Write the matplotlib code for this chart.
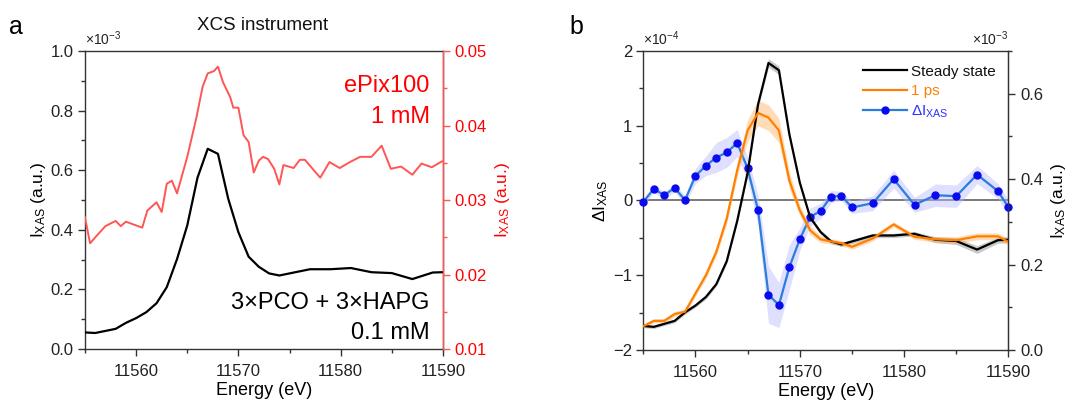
import matplotlib
matplotlib.use("Agg")
import matplotlib.pyplot as plt
from matplotlib.ticker import MultipleLocator, FixedLocator
from matplotlib.lines import Line2D
import numpy as np

plt.rcParams['font.family'] = ['Liberation Sans', 'DejaVu Sans']
plt.rcParams['mathtext.fontset'] = 'custom'
plt.rcParams['mathtext.rm'] = 'Liberation Sans'
plt.rcParams['mathtext.it'] = 'Liberation Sans'
plt.rcParams['axes.unicode_minus'] = True

# ---------------- data ----------------
# Steady-state XAS (3xPCO + 3xHAPG, 0.1 mM), units 1e-3
ss_energy = [11555, 11556, 11557, 11558, 11559, 11560, 11561, 11562, 11563, 11564,
             11565, 11566, 11567, 11568, 11569, 11570, 11571, 11572, 11573, 11574,
             11575, 11577, 11579, 11581, 11583, 11585, 11587, 11589, 11590]
ss_intensity = [0.056, 0.054, 0.061, 0.068, 0.088, 0.104, 0.124, 0.154, 0.208, 0.302,
                0.415, 0.575, 0.672, 0.655, 0.505, 0.392, 0.310, 0.276, 0.254, 0.247,
                0.254, 0.268, 0.268, 0.272, 0.258, 0.255, 0.235, 0.257, 0.258]
ss_err = [0.004, 0.004, 0.004, 0.004, 0.004, 0.004, 0.005, 0.005, 0.005, 0.006,
          0.007, 0.008, 0.010, 0.010, 0.008, 0.006, 0.005, 0.005, 0.005, 0.005,
          0.005, 0.005, 0.005, 0.005, 0.007, 0.008, 0.009, 0.007, 0.007]

# ePix100 XAS (1 mM), absolute a.u.
epix_energy = [11555.0, 11555.5, 11556.2, 11557.0, 11558.0, 11558.5, 11559.0, 11559.8,
               11560.6, 11561.1, 11562.0, 11562.5, 11563.0, 11563.5, 11564.0, 11565.0,
               11565.9, 11566.5, 11567.0, 11567.6, 11568.0, 11568.5, 11569.2, 11569.5,
               11570.0, 11570.5, 11571.0, 11571.5, 11572.0, 11572.4, 11572.9, 11573.5,
               11574.0, 11574.4, 11575.4, 11576.0, 11576.5, 11578.0, 11578.9, 11579.9,
               11580.9, 11581.9, 11583.0, 11584.0, 11584.9, 11585.9, 11587.0, 11587.9,
               11588.9, 11589.9]
epix_intensity = [0.0277, 0.0242, 0.0253, 0.0265, 0.0272, 0.0265, 0.0271, 0.0267,
                  0.0263, 0.0286, 0.0297, 0.0284, 0.0322, 0.0326, 0.0309, 0.0358,
                  0.0411, 0.0452, 0.0470, 0.0473, 0.0479, 0.0458, 0.0438, 0.0424,
                  0.0424, 0.0387, 0.0378, 0.0337, 0.0353, 0.0358, 0.0355, 0.0342,
                  0.0321, 0.0347, 0.0343, 0.0354, 0.0354, 0.0330, 0.0351, 0.0343,
                  0.0351, 0.0358, 0.0358, 0.0373, 0.0342, 0.0345, 0.0334, 0.0349,
                  0.0344, 0.0352]

# 1 ps XAS, units 1e-3
ps_intensity = [0.0555, 0.068, 0.068, 0.084, 0.0895, 0.1325, 0.175, 0.230, 0.308, 0.421,
                0.514, 0.555, 0.544, 0.514, 0.397, 0.327, 0.280, 0.259, 0.254, 0.250,
                0.2415, 0.261, 0.294, 0.265, 0.259, 0.257, 0.266, 0.266, 0.253]
ps_err = [0.005, 0.005, 0.005, 0.006, 0.006, 0.007, 0.008, 0.010, 0.012, 0.015,
          0.025, 0.030, 0.030, 0.028, 0.020, 0.012, 0.010, 0.008, 0.006, 0.006,
          0.006, 0.006, 0.006, 0.006, 0.007, 0.008, 0.008, 0.008, 0.008]

# Difference signal, units 1e-4
diff_intensity = [-0.02, 0.156, 0.07, 0.168, 0.005, 0.33, 0.465, 0.575, 0.643, 0.770,
                  0.428, -0.128, -1.262, -1.40, -0.893, -0.52, -0.22, -0.14, 0.053, 0.062,
                  -0.094, -0.036, 0.285, -0.058, 0.07, 0.058, 0.347, 0.125, -0.09]
diff_err = [0.05, 0.05, 0.05, 0.05, 0.06, 0.10, 0.13, 0.20, 0.20, 0.18,
            0.15, 0.20, 0.38, 0.30, 0.30, 0.15, 0.12, 0.10, 0.08, 0.06,
            0.08, 0.10, 0.12, 0.10, 0.15, 0.15, 0.12, 0.10, 0.10]

E = np.array(ss_energy, float)
ss = np.array(ss_intensity)
sse = np.array(ss_err)
ps = np.array(ps_intensity)
pse = np.array(ps_err)
dd = np.array(diff_intensity)
dde = np.array(diff_err)

RED = '#ff0000'
RED_LINE = '#ff5555'
ORANGE = '#ff8000'
BLUE_LINE = '#2a7ddc'
BLUE_MK = '#0a0af0'
SPINE = '#333333'
TICKLAB = 12

fig = plt.figure(figsize=(10.74, 4.05), dpi=100)

def style_axis(ax):
    for s in ax.spines.values():
        s.set_color(SPINE)
        s.set_linewidth(1.0)
    ax.tick_params(axis='both', which='major', direction='out', length=5, width=1.0,
                   labelsize=TICKLAB, color=SPINE, labelcolor='#222222', pad=3)
    ax.tick_params(axis='x', which='major', pad=6)
    ax.tick_params(axis='both', which='minor', direction='out', length=3, width=1.0,
                   color=SPINE)
    ax.tick_params(axis='x', top=False, which='both')

# ---------------- panel a ----------------
axa = fig.add_axes([0.0791, 0.138, 0.3334, 0.736])
axa.plot(E, ss, color='black', lw=1.6, zorder=3)
axa.set_xlim(11555, 11590)
axa.set_ylim(0, 1.0)
style_axis(axa)
axa.xaxis.set_major_locator(FixedLocator([11560, 11570, 11580, 11590]))
axa.xaxis.set_minor_locator(MultipleLocator(5))
axa.yaxis.set_major_locator(MultipleLocator(0.2))
axa.yaxis.set_minor_locator(MultipleLocator(0.1))
axa.yaxis.set_major_formatter(plt.FuncFormatter(lambda v, p: f"{v:.1f}"))
axa.set_xlabel('Energy (eV)', fontsize=13, labelpad=2)
axa.set_ylabel(r'I$_{\mathrm{XAS}}$ (a.u.)', fontsize=12.5, labelpad=2)
axa.text(0.0, 1.01, r'$\times10^{-3}$', transform=axa.transAxes, fontsize=10,
         ha='left', va='bottom', color='#222222')

axa2 = axa.twinx()
axa2.plot(epix_energy, epix_intensity, color=RED_LINE, lw=1.4, zorder=3)
axa2.set_ylim(0.01, 0.05)
axa2.set_xlim(11555, 11590)
for s in axa2.spines.values():
    s.set_visible(False)
axa2.spines['right'].set_visible(True)
axa2.spines['right'].set_color(RED_LINE)
axa2.spines['right'].set_linewidth(1.0)
axa2.yaxis.set_major_locator(MultipleLocator(0.01))
axa2.yaxis.set_minor_locator(MultipleLocator(0.005))
axa2.yaxis.set_major_formatter(plt.FuncFormatter(lambda v, p: f"{v:.2f}"))
axa2.tick_params(axis='y', which='major', direction='out', length=5, width=1.0,
                 color=RED_LINE, labelcolor=RED, labelsize=TICKLAB)
axa2.tick_params(axis='y', which='minor', direction='out', length=3, width=1.0,
                 color=RED_LINE)
axa2.set_ylabel(r'I$_{\mathrm{XAS}}$ (a.u.)', fontsize=12.5, color=RED, labelpad=4)

axa.text(0.963, 0.883, 'ePix100', transform=axa.transAxes, fontsize=17,
         color=RED, ha='right', va='center')
axa.text(0.963, 0.779, '1 mM', transform=axa.transAxes, fontsize=17,
         color=RED, ha='right', va='center')
axa.text(0.963, 0.154, '3×PCO + 3×HAPG', transform=axa.transAxes, fontsize=17,
         color='black', ha='right', va='center')
axa.text(0.963, 0.054, '0.1 mM', transform=axa.transAxes, fontsize=17,
         color='black', ha='right', va='center')

fig.text(263 / 1074, 1 - 25 / 405, 'XCS instrument', fontsize=13.5, ha='center',
         va='center', color='#111111')
fig.text(16 / 1074, 1 - 27 / 405, 'a', fontsize=18, ha='center', va='center')
fig.text(576 / 1074, 1 - 27 / 405, 'b', fontsize=18, ha='center', va='center')

# ---------------- panel b ----------------
axb = fig.add_axes([0.599, 0.136, 0.3399, 0.738])
axb.set_xlim(11555, 11590)
axb.set_ylim(-2, 2)
style_axis(axb)
axb.axhline(0, color='#555555', lw=1.1, zorder=1)
axb.xaxis.set_major_locator(FixedLocator([11560, 11570, 11580, 11590]))
axb.xaxis.set_minor_locator(MultipleLocator(5))
axb.yaxis.set_major_locator(MultipleLocator(1))
axb.yaxis.set_minor_locator(MultipleLocator(0.5))
axb.set_xlabel('Energy (eV)', fontsize=13, labelpad=2)
axb.set_ylabel(r'$\Delta$I$_{\mathrm{XAS}}$', fontsize=12.5, labelpad=2)
axb.text(0.0, 1.01, r'$\times10^{-4}$', transform=axb.transAxes, fontsize=10,
         ha='left', va='bottom', color='#222222')

# difference signal on left axis
axb.fill_between(E, dd - dde, dd + dde, color='#b8b8ff', alpha=0.45, lw=0, zorder=2)
axb.plot(E, dd, color=BLUE_LINE, lw=1.6, marker='o', ms=5, mfc=BLUE_MK, mec=BLUE_MK,
         zorder=4, clip_on=False)

axb2 = axb.twinx()
axb2.set_ylim(0, 0.7)
axb2.set_xlim(11555, 11590)
for s in axb2.spines.values():
    s.set_visible(False)
axb2.spines['right'].set_visible(True)
axb2.spines['right'].set_color(SPINE)
axb2.yaxis.set_major_locator(MultipleLocator(0.2))
axb2.yaxis.set_minor_locator(MultipleLocator(0.1))
axb2.yaxis.set_major_formatter(plt.FuncFormatter(lambda v, p: f"{v:.1f}"))
axb2.tick_params(axis='y', which='major', direction='out', length=5, width=1.0,
                 color=SPINE, labelcolor='#222222', labelsize=TICKLAB)
axb2.tick_params(axis='y', which='minor', direction='out', length=3, width=1.0,
                 color=SPINE)
axb2.set_ylabel(r'I$_{\mathrm{XAS}}$ (a.u.)', fontsize=12.5, labelpad=4)
axb2.text(1.0, 1.01, r'$\times10^{-3}$', transform=axb2.transAxes, fontsize=10,
          ha='right', va='bottom', color='#222222')

axb2.fill_between(E, ss - sse, ss + sse, color='#888888', alpha=0.45, lw=0, zorder=1)
axb2.fill_between(E, ps - pse, ps + pse, color='#ffb060', alpha=0.45, lw=0, zorder=1)
axb2.plot(E, ss, color='black', lw=1.6, zorder=3)
axb2.plot(E, ps, color=ORANGE, lw=1.6, zorder=3)

handles = [Line2D([], [], color='black', lw=1.6),
           Line2D([], [], color=ORANGE, lw=1.6),
           Line2D([], [], color=BLUE_LINE, lw=1.6, marker='o', ms=5,
                  mfc=BLUE_MK, mec=BLUE_MK)]
labels = ['Steady state', '1 ps', r'$\Delta$I$_{\mathrm{XAS}}$']
leg = axb2.legend(handles, labels, loc='upper right', frameon=False, fontsize=11,
                  handlelength=2.9, handletextpad=0.25, labelspacing=0.35,
                  borderaxespad=0.3, bbox_to_anchor=(0.995, 0.99))
for txt, col in zip(leg.get_texts(), ['#111111', ORANGE, '#3030ff']):
    txt.set_color(col)

fig.savefig('out.png', dpi=100)
